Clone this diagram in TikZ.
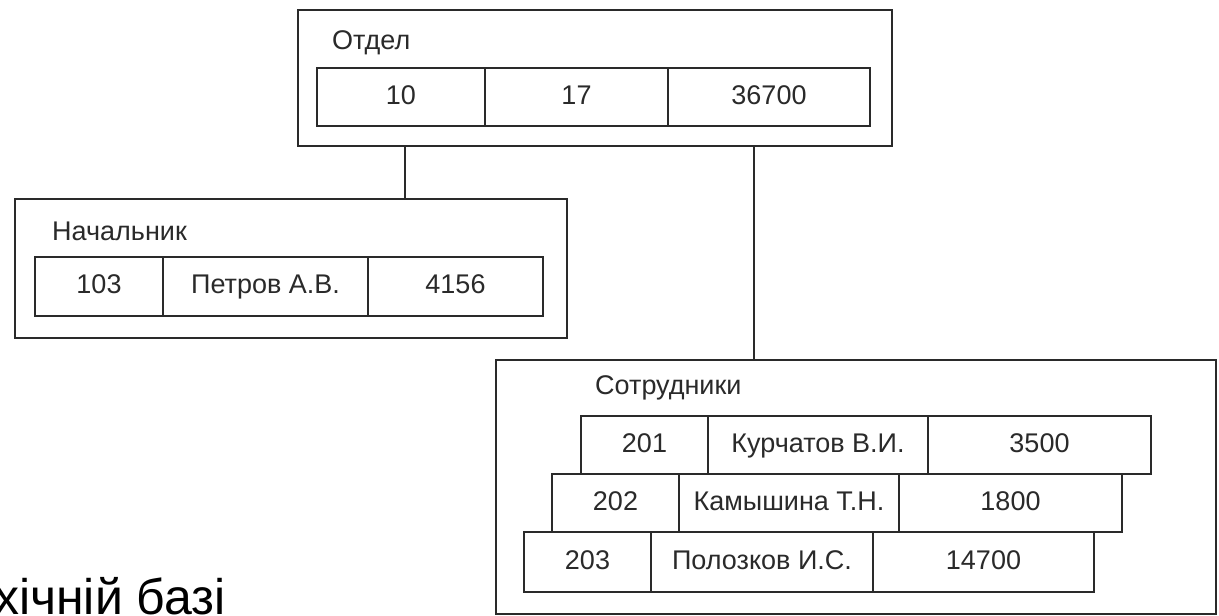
\documentclass[tikz,border=0pt]{standalone}
\usepackage{fontspec}
\setmainfont{Liberation Sans}
\definecolor{ink}{HTML}{2A2A2A}
\newcommand\cellfont{\fontsize{27}{32}\selectfont}
\begin{document}
\begin{tikzpicture}[x=1pt,y=-1pt,
  box/.style={draw=ink, line width=2.2pt, anchor=north west, inner sep=0pt, outer sep=0pt},
  cell/.style={draw=ink, line width=2pt, anchor=north west, inner sep=0pt, outer sep=0pt, text=ink, font=\cellfont, text height=19pt, text depth=5pt},
  lbl/.style={anchor=west, inner sep=0pt, text=ink, font=\cellfont, text height=19pt, text depth=5pt},
  link/.style={draw=ink, line width=2pt}]
\useasboundingbox[fill=white] (0,0) rectangle (1219,616);
% Отдел
\node[box, minimum width=594pt, minimum height=136pt] (otdel) at (298,10) {};
\node[lbl] (lo) at (332,42) {Отдел};
\node[cell, minimum width=168pt, minimum height=58pt] (o1) at (317,68) {10};
\node[cell, minimum width=183pt, minimum height=58pt] (o2) at (485,68) {17};
\node[cell, minimum width=202pt, minimum height=58pt] (o3) at (668,68) {36700};
% Начальник
\node[box, minimum width=552pt, minimum height=139pt] (nach) at (15,199) {};
\node[lbl] (ln) at (52,233) {Начальник};
\node[cell, minimum width=128pt, minimum height=59pt] (n1) at (35,257) {103};
\node[cell, minimum width=205pt, minimum height=59pt] (n2) at (163,257) {Петров А.В.};
\node[cell, minimum width=175pt, minimum height=59pt] (n3) at (368,257) {4156};
% Сотрудники
\node[box, minimum width=720pt, minimum height=254pt] (sotr) at (496,360) {};
\node[lbl] (ls) at (595,387) {Сотрудники};
\node[cell, minimum width=127pt, minimum height=58pt] (a1) at (581,416) {201};
\node[cell, minimum width=220pt, minimum height=58pt] (a2) at (708,416) {Курчатов В.И.};
\node[cell, minimum width=223pt, minimum height=58pt] (a3) at (928,416) {3500};
\node[cell, minimum width=127pt, minimum height=58pt] (b1) at (552,474) {202};
\node[cell, minimum width=220pt, minimum height=58pt] (b2) at (679,474) {Камышина Т.Н.};
\node[cell, minimum width=223pt, minimum height=58pt] (b3) at (899,474) {1800};
\node[cell, minimum width=127pt, minimum height=60pt] (c1) at (524,532) {203};
\node[cell, minimum width=222pt, minimum height=60pt] (c2) at (651,532) {Полозков И.С.};
\node[cell, minimum width=221pt, minimum height=60pt] (c3) at (873,532) {14700};
% connectors
\coordinate (k1) at (405,0);
\coordinate (k2) at (754,0);
\draw[link] (otdel.south -| k1) -- (nach.north -| k1);
\draw[link] (otdel.south -| k2) -- (sotr.north -| k2);
% cut-off caption
\begin{scope}
\clip (0,0) rectangle (1219,616);
\node[anchor=base west, inner sep=0pt, text=black, font=\fontsize{50}{60}\selectfont] (cap) at (-6,614) {хічній базі};
\end{scope}
\end{tikzpicture}
\end{document}
